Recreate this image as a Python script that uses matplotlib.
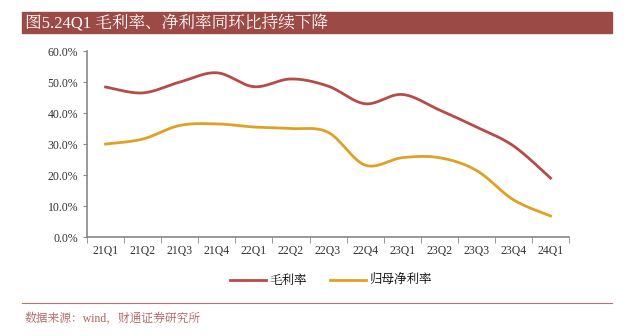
import numpy as np
import matplotlib.pyplot as plt
from matplotlib.patches import Rectangle
from matplotlib.lines import Line2D

plt.rcParams['font.family'] = ['Liberation Serif', 'Noto Serif CJK SC', 'Noto Sans CJK SC', 'DejaVu Sans']

quarters = ['21Q1', '21Q2', '21Q3', '21Q4', '22Q1', '22Q2', '22Q3',
            '22Q4', '23Q1', '23Q2', '23Q3', '23Q4', '24Q1']
gross_margin = [48.4, 46.5, 50.0, 53.0, 48.5, 51.0, 48.7, 43.0, 46.0, 41.0, 35.5, 29.4, 19.0]
net_margin = [30.0, 31.6, 36.0, 36.5, 35.5, 35.0, 33.8, 23.2, 25.6, 25.6, 21.5, 12.0, 6.8]
yticks = [0, 10, 20, 30, 40, 50, 60]

RED = '#B84A48'
GOLD = '#DFA024'
BAR = '#9C4A45'


def smooth(xs, ys, n=30):
    # excel-like smoothed line: cardinal bezier through the points
    xs = np.asarray(xs, float)
    ys = np.asarray(ys, float)
    px, py = [], []
    for i in range(len(xs) - 1):
        i0, i3 = max(i - 1, 0), min(i + 2, len(xs) - 1)
        p0 = np.array([xs[i], ys[i]])
        p3 = np.array([xs[i + 1], ys[i + 1]])
        c1 = p0 + (np.array([xs[i + 1], ys[i + 1]]) - np.array([xs[i0], ys[i0]])) / 6
        c2 = p3 - (np.array([xs[i3], ys[i3]]) - np.array([xs[i], ys[i]])) / 6
        t = np.linspace(0, 1, n)[:, None]
        seg = (1 - t) ** 3 * p0 + 3 * (1 - t) ** 2 * t * c1 + 3 * (1 - t) * t ** 2 * c2 + t ** 3 * p3
        px.extend(seg[:, 0])
        py.extend(seg[:, 1])
    return px, py


fig = plt.figure(figsize=(6.38, 3.36), dpi=100)
ax = fig.add_axes([0.1364, 0.2946, 0.7556, 0.5534])

x = np.arange(len(quarters))
sx, sy = smooth(x, gross_margin)
ax.plot(sx, sy, color=RED, lw=2)
sx, sy = smooth(x, net_margin)
ax.plot(sx, sy, color=GOLD, lw=2)

ax.set_xlim(-0.5, len(quarters) - 0.5)
ax.set_ylim(0, 60)
ax.set_yticks(yticks)
ax.set_yticklabels([f'{v:.1f}%' for v in yticks], fontsize=8.5, color='#333333')
ax.set_xticks(x)
ax.set_xticklabels(quarters, fontsize=8.5, color='#333333')
ax.set_xticks(np.arange(len(quarters) + 1) - 0.5, minor=True)
ax.tick_params(axis='x', which='major', length=0, pad=6)
ax.tick_params(axis='x', which='minor', length=4, color='#888888', direction='out')
ax.tick_params(axis='y', length=3, color='#888888', direction='out')
for s in ['top', 'right']:
    ax.spines[s].set_visible(False)
for s in ['left', 'bottom']:
    ax.spines[s].set_color('#888888')
    ax.spines[s].set_linewidth(1.2)

# title bar
fig.patches.append(Rectangle((22 / 638, 1 - 33 / 336), 590 / 638, 21 / 336,
                             transform=fig.transFigure, color=BAR, zorder=0))
fig.text(25 / 638, 1 - 23 / 336, '图5.24Q1 毛利率、净利率同环比持续下降', color='white',
         fontsize=12, va='center', ha='left')

# legend
handles = [Line2D([], [], color=RED, lw=2), Line2D([], [], color=GOLD, lw=2)]
fig.legend(handles, ['毛利率', '归母净利率'], loc='center', ncol=2,
           bbox_to_anchor=(331 / 638, 1 - 281 / 336), frameon=False, fontsize=9,
           handlelength=2.9, handletextpad=0.3, columnspacing=1.8)

# source line
fig.add_artist(Line2D([22 / 638, 612 / 638], [1 - 303 / 336, 1 - 303 / 336],
                      transform=fig.transFigure, color='#C07070', lw=0.8))
fig.text(25 / 638, 1 - 318 / 336, '数据来源：wind，财通证券研究所', color='#B06060',
         fontsize=8.5, va='center', ha='left')

fig.savefig('out.png', dpi=100)
